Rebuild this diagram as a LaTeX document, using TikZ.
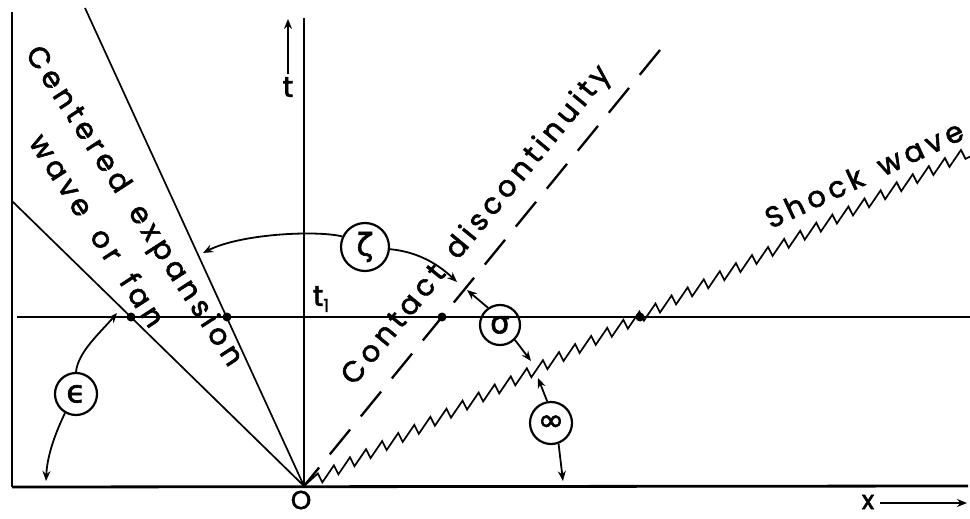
\documentclass[tikz,border=0pt]{standalone}
\usepackage{fontspec}
\setmainfont{Poppins}
\newfontfamily\lab[LetterSpace=16,FakeBold=2]{Poppins}
\newfontfamily\grk[FakeBold=2]{DejaVu Sans}
\usetikzlibrary{arrows.meta,decorations.pathmorphing}
\begin{document}
\begin{tikzpicture}[x=1pt,y=-1pt,
  thinline/.style={line width=1.7pt},
  axisline/.style={line width=2.8pt},
  lbl/.style={font=\lab\fontsize{29}{32}\selectfont, inner sep=0pt},
  circ/.style={circle, draw, line width=2.2pt, inner sep=0pt, font=\grk\fontsize{31}{31}\selectfont},
  arr/.style={line width=1.8pt, -{Stealth[length=10pt,width=8pt]}},
  dotm/.style={circle, fill, inner sep=0pt, minimum size=9pt},
]
\useasboundingbox (0,0) rectangle (970,519);
% key points
\coordinate (O) at (304,486);
\coordinate (LT) at (12,12);
\coordinate (LB) at (12,487);
\coordinate (XR) at (968,486);
\coordinate (TT) at (304,18);
\coordinate (F1) at (12,201);
\coordinate (F2) at (85,8);
\coordinate (CD) at (660,50);
\coordinate (SW) at (968,152);
\coordinate (H0) at (17,317);
\coordinate (H1) at (970,317);
% frame and axes
\draw[line width=2.2pt] (LT) -- (LB);
\draw[axisline] (LB) -- (XR);
\draw[axisline] (O) -- (TT);
% fan lines
\draw[thinline] (F1) -- (O);
\draw[thinline] (F2) -- (O);
% t1 line
\draw[thinline] (H0) -- (H1);
% contact discontinuity
\draw[line width=2.3pt, dash pattern=on 32pt off 17pt] (CD) -- (O);
% shock wave
\draw[thinline, decorate, decoration={saw, segment length=18pt, amplitude=10pt, raise=-5pt}] (O) -- (SW);
% dots
\node[dotm] (d1) at (131,317) {};
\node[dotm] (d2) at (227,317) {};
\node[dotm] (d3) at (442,317) {};
\node[dotm] (d4) at (640,317) {};
% labels
\node[lbl, rotate=-57] (cexp) at (133,207) {Centered\hspace{8pt} expansion};
\node[lbl, rotate=-57] (wof) at (98,230) {wave\hspace{8pt} or\hspace{8pt} fan};
\node[lbl, rotate=50.5] (cdis) at (477,226) {Contact\hspace{5pt} discontinuity};
\node[lbl, rotate=25] (shk) at (864,174) {Shock\hspace{6pt} wave};
\node[lbl] (tlab) at (288,87) {t};
\node[lbl] (t1) at (321,299) {t\raisebox{-6pt}{\fontsize{18}{18}\selectfont 1}};
\node[lbl, font=\lab\fontsize{26}{26}\selectfont] (olab) at (301,500) {O};
\node[lbl, font=\lab\fontsize{26}{26}\selectfont] (xlab) at (868,502) {x};
\coordinate (tarr) at (288,19);
\coordinate (xarr) at (967,503);
\draw[arr] ([yshift=3pt]tlab.north) -- (tarr);
\draw[arr] ([xshift=6pt,yshift=-1pt]xlab.east) -- (xarr);
% circled angles
\node[circ, minimum size=48pt] (zeta) at (365,247) {ζ};
\node[circ, minimum size=40pt] (sigma) at (500,325) {σ};
\node[circ, minimum size=42pt] (omega) at (551,423) {∞};
\node[circ, minimum size=42pt] (eps) at (76,394) {ϵ};
% arrow tips
\coordinate (zl) at (203,253);
\coordinate (zr) at (457,282);
\coordinate (su) at (467,290);
\coordinate (sd) at (531,361);
\coordinate (ou) at (538,378);
\coordinate (od) at (563,481);
\coordinate (eu) at (117,313);
\coordinate (ed) at (46,481);
\draw[arr] (zeta.155) .. controls (315,230) and (240,234) .. (zl);
\draw[arr] (zeta.-5) .. controls (420,252) and (440,266) .. (zr);
\draw[arr] (sigma.125) -- (su);
\draw[arr] (sigma.-45) -- (sd);
\draw[arr] (omega.100) -- (ou);
\draw[arr] (omega.-70) -- (od);
\draw[arr] (eps.90) .. controls (78,352) and (100,333) .. (eu);
\draw[arr] (eps.-120) .. controls (52,440) and (47,460) .. (ed);
\end{tikzpicture}
\end{document}
